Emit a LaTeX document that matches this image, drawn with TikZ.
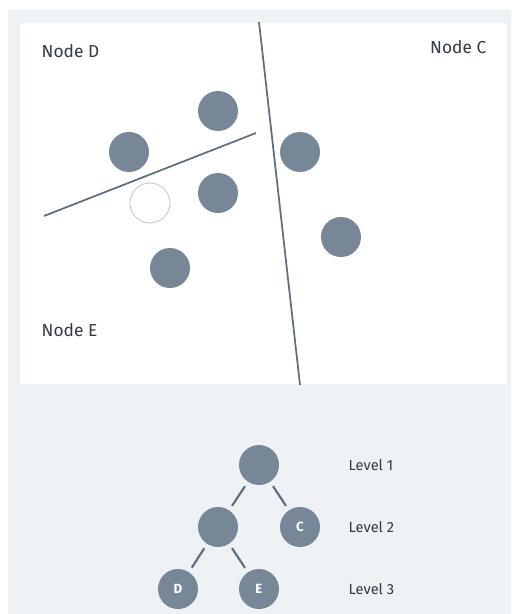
\documentclass[tikz,border=0pt]{standalone}
\usepackage{fontspec}
\setmainfont{Fira Sans}
\usepackage{tikz}
\usetikzlibrary{positioning}
\usepackage{xcolor}
\definecolor{pagebg}{HTML}{EFF2F5}
\definecolor{dotfill}{HTML}{788797}
\definecolor{splitline}{HTML}{5F6E7D}
\definecolor{ringline}{HTML}{C3CCD6}
\definecolor{labeltext}{HTML}{333A42}
\tikzset{
  point/.style={
    circle, fill=dotfill, minimum size=30pt, inner sep=0pt
  },
  query/.style={
    circle, draw=ringline, line width=0.7pt, fill=white,
    minimum size=30pt, inner sep=0pt
  },
  treenode/.style={
    point, font=\fontsize{10}{12}\selectfont\bfseries, text=white, outer sep=4pt
  },
  split/.style={draw=splitline, line width=1.3pt},
  branch/.style={draw=splitline, line width=1.6pt},
  region/.style={font=\fontsize{13}{15}\selectfont, text=labeltext},
  level/.style={font=\fontsize{11}{13}\selectfont, text=labeltext, anchor=west}
}

\begin{document}
\begin{tikzpicture}[x=0.75pt, y=-0.75pt]
  \useasboundingbox (0,0) rectangle (511,614);
  \fill[pagebg] (8,10) rectangle (511,614);
  \fill[white] (20,23) rectangle (507,384);

  % space split
  \coordinate (vtop) at (259,22);
  \coordinate (vbot) at (300,385);
  \coordinate (hleft) at (44,216);
  \coordinate (hright) at (256,133);
  \draw[split] (vtop) -- (vbot);
  \draw[split] (hleft) -- (hright);

  \node[region, anchor=west] (labD) at (37,51) {Node D};
  \node[region, anchor=east] (labC) at (491,47) {Node C};
  \node[region, anchor=west] (labE) at (37,330) {Node E};

  \node[point] (p1) at (218,111) {};
  \node[point] (p2) at (129,152) {};
  \node[point] (p3) at (218,193) {};
  \node[point] (p4) at (300,152) {};
  \node[point] (p5) at (341,237) {};
  \node[point] (p6) at (170,268) {};
  \node[query] (q) at (150,203) {};

  % the tree
  \node[treenode] (root) at (259,465) {};
  \node[treenode] (mid) at (218,527) {};
  \node[treenode] (nc) at (300,527) {C};
  \node[treenode] (nd) at (178,589) {D};
  \node[treenode] (ne) at (259,589) {E};

  \draw[branch] (root) -- (mid);
  \draw[branch] (root) -- (nc);
  \draw[branch] (mid) -- (nd);
  \draw[branch] (mid) -- (ne);

  \node[level] (lv1) at (344,465) {Level 1};
  \node[level] (lv2) at (344,527) {Level 2};
  \node[level] (lv3) at (344,589) {Level 3};
\end{tikzpicture}
\end{document}
